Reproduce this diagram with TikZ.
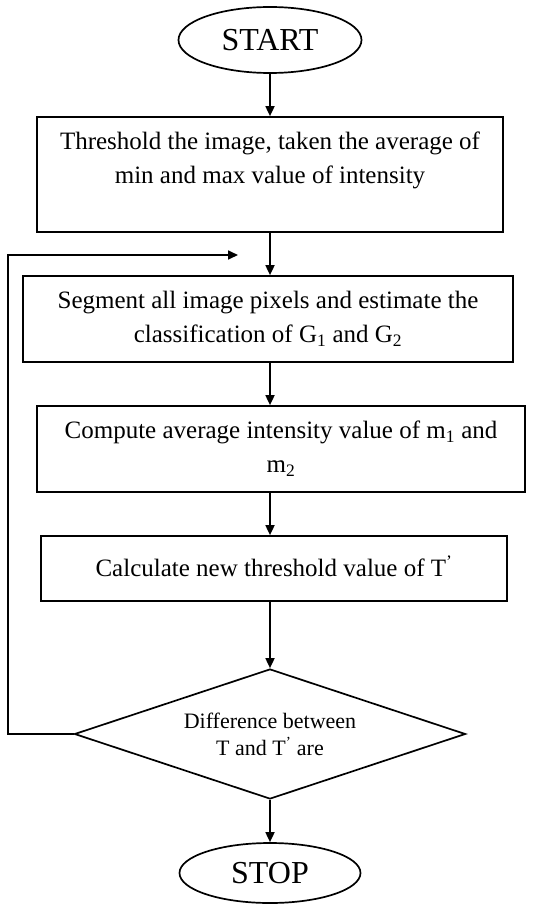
\documentclass[tikz,border=0pt]{standalone}
\usepackage{fontspec}
\setmainfont{Liberation Serif}
\usetikzlibrary{shapes.geometric,arrows.meta}

\begin{document}
\begin{tikzpicture}[x=1pt,y=-1pt,
    box/.style={draw,line width=1.7pt,rectangle,align=center,inner sep=0pt,font=\fontsize{25}{34}\selectfont},
    term/.style={draw,line width=1.7pt,ellipse,inner sep=0pt,font=\fontsize{32}{36}\selectfont},
    flow/.style={line width=1.7pt,-{Triangle[length=10pt,width=9pt]}}]
    \useasboundingbox (0,0) rectangle (558,904);

    % start and stop
    \node[term,minimum width=183pt,minimum height=66pt] (start) at (270,40) {START};
    \node[term,minimum width=181pt,minimum height=60pt] (stop) at (270,873) {STOP};

    % process boxes
    \node[box,minimum width=466pt,minimum height=115pt] (thresh) at (270,174.5) {Threshold the image, taken the average of\\min and max value of intensity\\\mbox{}};
    \node[box,minimum width=490pt,minimum height=86pt] (segm) at (268,319) {Segment all image pixels and estimate the\\classification of G\textsubscript{1} and G\textsubscript{2}};
    \node[box,minimum width=488pt,minimum height=86pt] (avg) at (281,449) {Compute average intensity value of m\textsubscript{1} and\\m\textsubscript{2}};
    \node[box,minimum width=466pt,minimum height=65pt] (newt) at (274,568.5) {\raisebox{5pt}{Calculate new threshold value of T\textsuperscript{'}}};

    % decision
    \node[draw,line width=1.7pt,diamond,aspect=3,inner sep=0pt,minimum width=391pt,minimum height=130pt,align=center,font=\fontsize{22}{27}\selectfont] (diff) at (270,734) {Difference between\\T and T\textsuperscript{'} are};

    % arrows down
    \draw[flow] (start.south) -- (thresh.north -| start);
    \draw[flow] (thresh.south -| start) -- (segm.north -| start);
    \draw[flow] (segm.south -| start) -- (avg.north -| start);
    \draw[flow] (avg.south -| start) -- (newt.north -| start);
    \draw[flow] (newt.south -| start) -- (diff.north);
    \draw[flow] (diff.south) -- (stop.north);

    % loop back
    \coordinate (corner) at (8,255);
    \coordinate (back) at (238,255);
    \draw[flow] (diff.west) -| (corner) -- (back);
\end{tikzpicture}
\end{document}
